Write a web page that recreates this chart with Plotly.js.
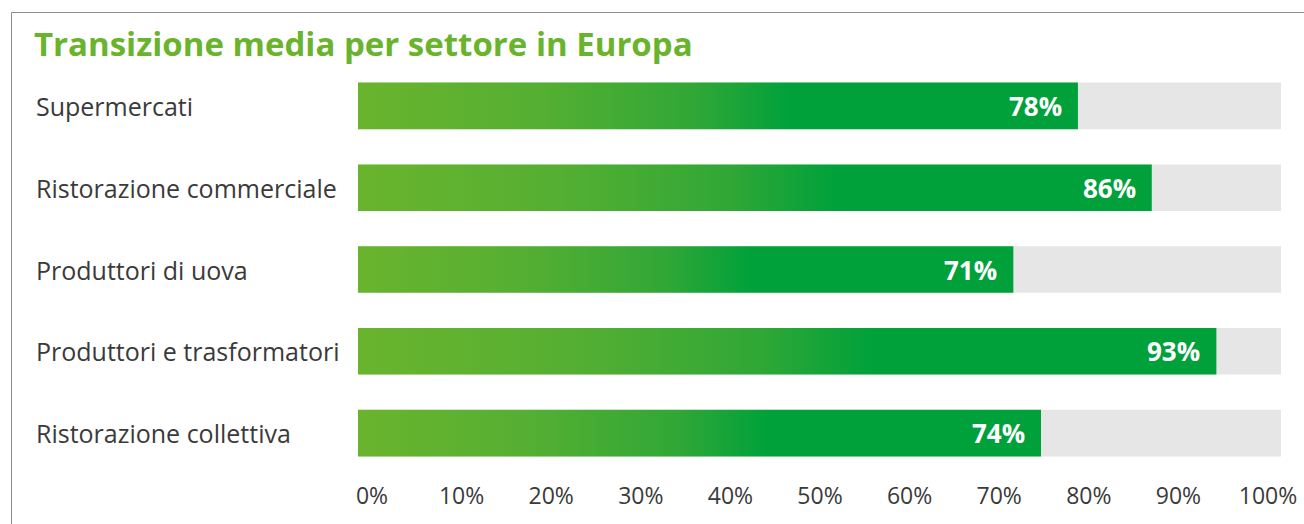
<!DOCTYPE html>
<html>
<head>
<meta charset="utf-8">
<script src="https://cdn.plot.ly/plotly-3.0.1.min.js"></script>
<style>html,body{margin:0;padding:0;background:#fff;}#chart{width:1304px;height:524px;}</style>
</head>
<body>
<div id="chart"></div>
<script>
const categories = ["Supermercati", "Ristorazione commerciale", "Produttori di uova", "Produttori e trasformatori", "Ristorazione collettiva"];
const values = [78, 86, 71, 93, 74];
const maxValues = [100, 100, 100, 100, 100];
const tickVals = [0, 10, 20, 30, 40, 50, 60, 70, 80, 90, 100];
const tickLabels = ["0%", "10%", "20%", "30%", "40%", "50%", "60%", "70%", "80%", "90%", "100%"];
const titleText = "Transizione media per settore in Europa";

const W = 1304, H = 524;
const mL = 358, mR = 23, mT = 65, mB = 50;
const plotW = W - mL - mR, plotH = H - mT - mB;
const px2x = p => (p - mL) / plotW;
const py2y = p => (H - mB - p) / plotH;

const FONT = "Open Sans, Noto Sans, sans-serif";
const LIGHT = "#6ab42d", DARK = "#00a13b", GREY = "#e6e6e6", TEXT = "#3a3a3a";
const half = 0.285;
const idx = categories.map((c, i) => i);

const traces = [];
traces.push({
  type: "bar", orientation: "h", x: maxValues, y: idx, width: half * 2,
  marker: {color: GREY, line: {width: 0}}, hoverinfo: "skip", showlegend: false
});
values.forEach((v, i) => {
  traces.push({
    type: "scatter", mode: "lines", x: [0, v, v, 0, 0],
    y: [i - half, i - half, i + half, i + half, i - half],
    fill: "toself", line: {width: 0, color: "rgba(0,0,0,0)"},
    fillgradient: {type: "horizontal", colorscale: [[0, LIGHT], [0.25, "#55af32"], [0.47, "#30a736"], [0.6, DARK], [1, DARK]]},
    hoverinfo: "skip", showlegend: false
  });
});
traces.push({
  type: "scatter", mode: "markers", x: [0, 100], y: [0, 0], xaxis: "x2", yaxis: "y",
  marker: {opacity: 0}, hoverinfo: "skip", showlegend: false
});

const annotations = [];
categories.forEach((c, i) => {
  annotations.push({
    xref: "paper", yref: "y", x: px2x(34), y: i, xanchor: "left", yanchor: "middle",
    text: c, showarrow: false, font: {family: FONT, size: 25, color: TEXT}
  });
  annotations.push({
    xref: "x", yref: "y", x: values[i], y: i, xanchor: "right", yanchor: "middle", xshift: -14,
    text: "<b>" + values[i] + "%</b>", showarrow: false, font: {family: FONT, size: 26, color: "#ffffff"}
  });
});

const layout = {
  width: W, height: H,
  margin: {l: mL, r: mR, t: mT, b: mB},
  paper_bgcolor: "#ffffff", plot_bgcolor: "rgba(0,0,0,0)",
  title: {
    text: "<b>" + titleText + "</b>", xref: "container", yref: "container",
    x: 34 / W, xanchor: "left", y: 1 - 44 / H, yanchor: "middle",
    font: {family: FONT, size: 33, color: LIGHT}
  },
  xaxis: {range: [0, 100], visible: false, fixedrange: true},
  xaxis2: {
    range: [0, 100], domain: [px2x(372), px2x(1268)], anchor: "y",
    tickvals: tickVals, ticktext: tickLabels, showgrid: false, zeroline: false,
    showline: false, ticks: "", ticklabelstandoff: 6,
    tickfont: {family: FONT, size: 23, color: TEXT}, fixedrange: true
  },
  yaxis: {range: [4.5, -0.5], visible: false, fixedrange: true},
  showlegend: false,
  annotations: annotations,
  shapes: [
    {type: "line", xref: "paper", yref: "paper", x0: px2x(11.5), x1: px2x(1310), y0: py2y(12.5), y1: py2y(12.5), line: {color: "#8c8c8c", width: 1}},
    {type: "line", xref: "paper", yref: "paper", x0: px2x(11.5), x1: px2x(11.5), y0: py2y(12.5), y1: py2y(530), line: {color: "#8c8c8c", width: 1}}
  ]
};

Plotly.newPlot("chart", traces, layout, {displayModeBar: false, staticPlot: true});
</script>
</body>
</html>
